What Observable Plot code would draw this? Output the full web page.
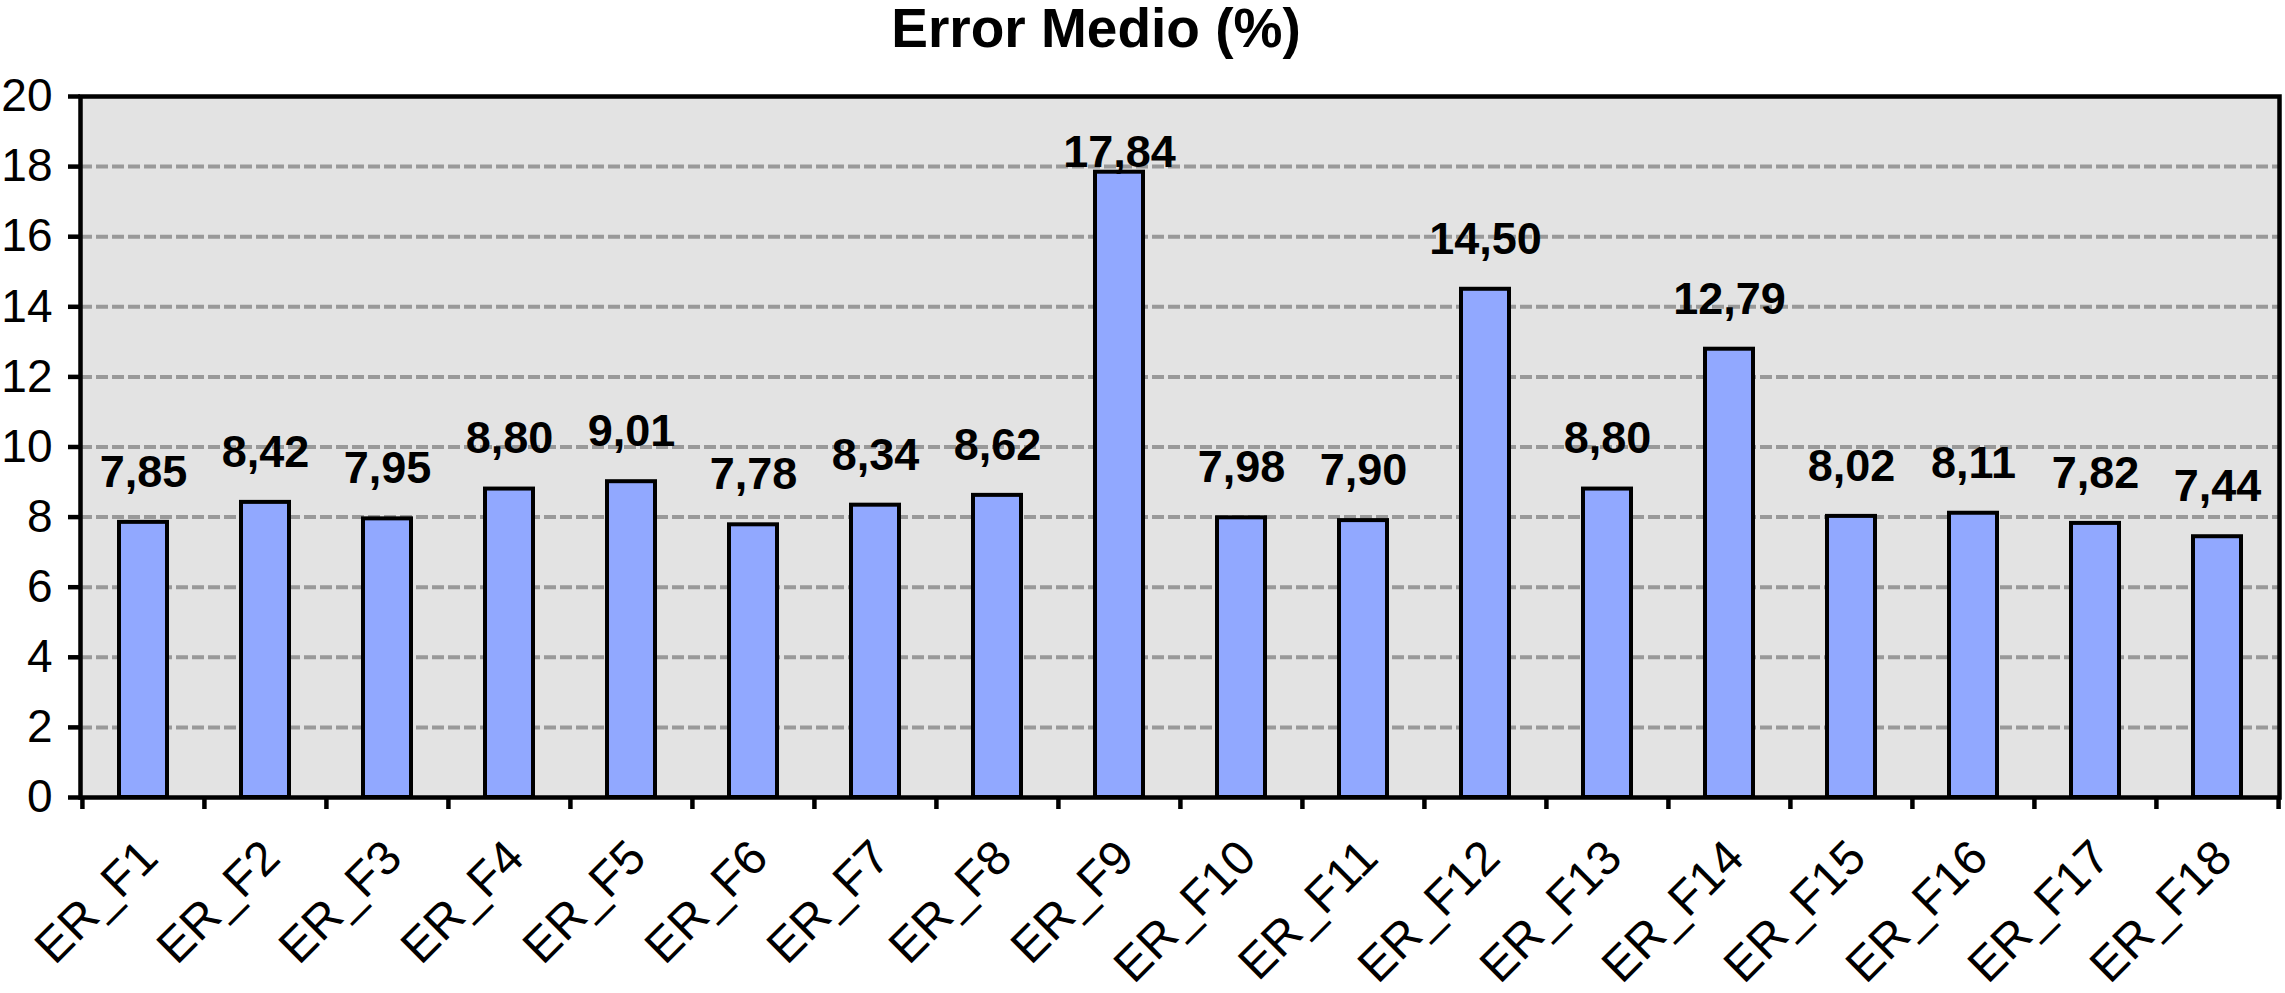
<!DOCTYPE html>
<html><head><meta charset="utf-8">
<script src="https://cdn.jsdelivr.net/npm/d3@7"></script>
<script src="https://cdn.jsdelivr.net/npm/@observablehq/plot@0.6"></script>
<style>
body{margin:0;background:#fff;font-family:"Liberation Sans",Arial,sans-serif;}
#title{width:2192px;height:70px;text-align:center;font-weight:bold;font-size:55px;line-height:55px;padding-top:1px;box-sizing:border-box;color:#000}
</style></head><body>
<div id="title">Error Medio (%)</div>
<div id="chart"></div>
<script>
const categories = ["ER_F1","ER_F2","ER_F3","ER_F4","ER_F5","ER_F6","ER_F7","ER_F8","ER_F9","ER_F10","ER_F11","ER_F12","ER_F13","ER_F14","ER_F15","ER_F16","ER_F17","ER_F18"];
const values = [7.85,8.42,7.95,8.80,9.01,7.78,8.34,8.62,17.84,7.98,7.90,14.50,8.80,12.79,8.02,8.11,7.82,7.44];
const yTicks = [0,2,4,6,8,10,12,14,16,18,20];
const gridValues = [2,4,6,8,10,12,14,16,18];

const data = categories.map((c,i)=>({cat:c, value:values[i], label:values[i].toFixed(2).replace(".", ",")}));
const W=2285, H=923, mL=80, mR=6, mT=26, mB=196;
const step = (W-mL-mR)/categories.length;
const font = "'Liberation Sans', Arial, sans-serif";
const chart = Plot.plot({
  width: W, height: H, marginLeft: mL, marginRight: mR, marginTop: mT, marginBottom: mB,
  style: {fontFamily: font, background: "white", overflow: "visible", color: "black"},
  x: {domain: categories, padding: 0, label: null},
  y: {domain: [0,20], label: null},
  marks: [
    Plot.frame({fill: "#e3e3e3"}),
    Plot.ruleY(gridValues, {stroke:"#999", strokeWidth:4, strokeDasharray:"12,4"}),
    Plot.barY(data, {x:"cat", y:"value", fill:"#91a8ff", stroke:"black", strokeWidth:4, insetLeft:37, insetRight:37}),
    Plot.text(data.filter(d=>d.value<17), {x:"cat", y:"value", text:"label", dy:-50, fontSize:45, fontWeight:"bold", fill:"black"}),
    Plot.text(data.filter(d=>d.value>=17), {x:"cat", y:"value", text:"label", dy:-20, fontSize:45, fontWeight:"bold", fill:"black"}),
    Plot.frame({stroke:"black", strokeWidth:4.5}),
    Plot.axisY({ticks: yTicks, tickSize:12, tickPadding:16, fontSize:46, stroke:"black", strokeWidth:4.5, tickFormat:d=>String(d), label:null}),
    Plot.axisX({tickSize:0, tickRotate:-45, fontSize:48, tickPadding:52, dx:6, fill:"black", label:null}),
    Plot.axisX({tickSize:12, stroke:"black", strokeWidth:4.5, tickFormat:()=>"", dx:-step/2, label:null}),
    Plot.axisX({ticks:[categories[categories.length-1]], tickSize:12, stroke:"black", strokeWidth:4.5, tickFormat:()=>"", dx:step/2, label:null})
  ]
});
document.getElementById("chart").appendChild(chart);
</script>
</body></html>
